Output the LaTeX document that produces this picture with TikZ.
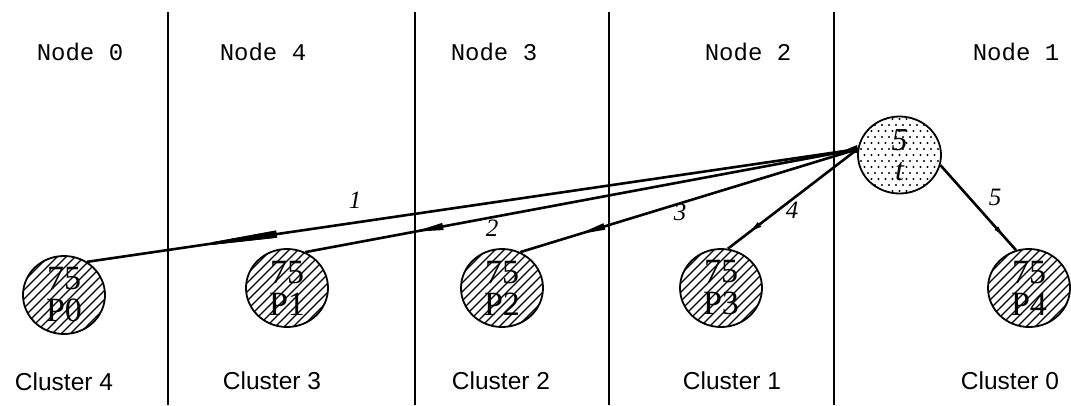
\documentclass[tikz,border=0pt]{standalone}
\usepackage{fontspec}
\setmainfont{Liberation Serif}
\newfontfamily\monofam{Liberation Mono}
\newfontfamily\sansfam{Liberation Sans}
\usetikzlibrary{shapes.geometric,decorations.markings,arrows.meta}

\begin{document}
\begin{tikzpicture}[x=1pt,y=-1pt,
  divider/.style={line width=2.8pt},
  nodelbl/.style={font=\monofam\fontsize{24}{24}\selectfont, inner sep=0pt},
  clusterlbl/.style={font=\sansfam\fontsize{24.5}{24.5}\selectfont, inner sep=0pt},
  edgelbl/.style={font=\itshape\fontsize{25}{25}\selectfont, inner sep=0pt},
  hatch/.style={path picture={
      \foreach \k in {-108,-99,...,108}{
        \draw[line width=1.3pt] ([xshift=\k pt]path picture bounding box.center) ++(-60pt,-60pt) -- ++(120pt,120pt);}}},
  dots/.style={path picture={
      \foreach \i in {-6,...,6}{
        \foreach \j in {-4,...,4}{
          \fill ([shift={(\i*7pt,\j*12pt)}]path picture bounding box.center) circle (1.1pt);
          \fill ([shift={(\i*7pt+3.5pt,\j*12pt+6pt)}]path picture bounding box.center) circle (1.1pt);}}}},
  proc/.style={ellipse, draw, line width=1.8pt, minimum width=82pt, minimum height=78pt,
      inner sep=0pt, align=center, font=\fontsize{34}{32}\selectfont, hatch},
  task/.style={ellipse, draw, line width=1.8pt, minimum width=83pt, minimum height=77pt,
      inner sep=0pt, align=center, font=\itshape\fontsize{32}{30}\selectfont, dots},
  msg/.style={line width=2.6pt},
  midarrow/.style n args={3}{postaction={decorate}, decoration={markings,
      mark=at position #1 with {\arrow{Triangle[length=#2, width=#3]}}}},
  startwedge/.style={postaction={decorate}, decoration={markings,
      mark=at position 17pt with {\arrow{Triangle[length=17pt, width=7pt]}}}}
]
\useasboundingbox (0,0) rectangle (1071,405);

% column dividers
\draw[divider] (168,12) -- (168,405);
\draw[divider] (415,12) -- (415,405);
\draw[divider] (609,12) -- (609,405);
\draw[divider] (834,12) -- (834,405);

% node headings
\node[nodelbl] (n0) at (80,52) {Node 0};
\node[nodelbl] (n4) at (263,52) {Node 4};
\node[nodelbl] (n3) at (494,52) {Node 3};
\node[nodelbl] (n2) at (748,52) {Node 2};
\node[nodelbl] (n1) at (1016,52) {Node 1};

% cluster labels
\node[clusterlbl] (c4) at (64,382) {Cluster 4};
\node[clusterlbl] (c3) at (272,381) {Cluster 3};
\node[clusterlbl] (c2) at (501,381) {Cluster 2};
\node[clusterlbl] (c1) at (732,381) {Cluster 1};
\node[clusterlbl] (c0) at (1010,381) {Cluster 0};

% processes
\node[proc] (P0) at (64,295) {75\\P0};
\node[proc] (P1) at (287,288) {75\\P1};
\node[proc] (P2) at (502,288) {75\\P2};
\node[proc] (P3) at (721,288) {75\\P3};
\node[proc] (P4) at (1029,288) {75\\P4};

% task
\node[task] (t) at (899.5,155) {5\\t};

% messages
\draw[msg, midarrow={0.893}{108pt}{6.5pt}, startwedge] (t.172) -- (P0.55);
\draw[msg, midarrow={0.806}{31pt}{6.5pt}] (t.172) -- (P1.63);
\draw[msg, midarrow={0.833}{29pt}{6pt}] (t.172) -- (P2.63);
\draw[msg, midarrow={0.83}{12pt}{5pt}] (t.172) -- (P3.80);
\draw[msg, midarrow={0.85}{12pt}{4pt}] (t.-14) -- (P4.109);

% message labels
\node[edgelbl] (l1) at (355,200) {1};
\node[edgelbl] (l2) at (492,228) {2};
\node[edgelbl] (l3) at (680,212) {3};
\node[edgelbl] (l4) at (792,210) {4};
\node[edgelbl] (l5) at (995,197) {5};
\end{tikzpicture}
\end{document}
